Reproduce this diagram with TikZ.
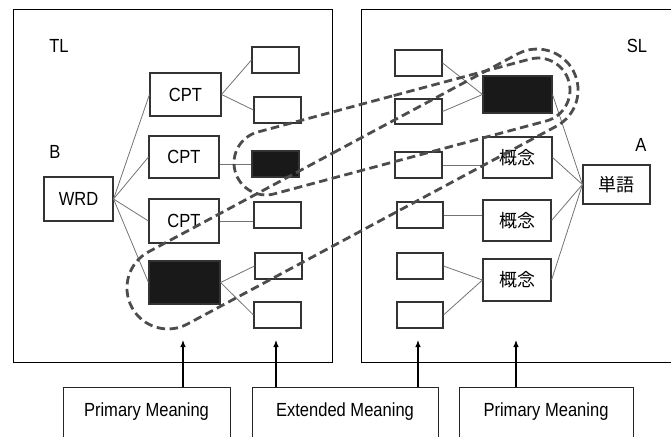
\documentclass[tikz,border=0pt]{standalone}
\usepackage{fontspec}
\setmainfont{Liberation Sans}[FakeStretch=0.87]
\newfontfamily\jpfont{Noto Sans CJK JP}
\usetikzlibrary{arrows.meta}
\usetikzlibrary{calc}
\usetikzlibrary{positioning}
\usetikzlibrary{shapes.misc}

\begin{document}
\begin{tikzpicture}[
	x=1pt, y=-1pt,
	> = {Latex[length=7pt, width=5.5pt]},
	every node/.style = {font=\fontsize{19}{21}\selectfont},
	bigbox/.style = {draw=black!80, line width=1.1pt, minimum width=70pt, minimum height=42pt, inner sep=0pt},
	smallbox/.style = {draw=black!80, line width=1.1pt, minimum width=47pt, minimum height=26pt, inner sep=0pt},
	filled/.style = {fill=black!90},
	jp/.style = {font=\jpfont\fontsize{18}{20}\selectfont},
	conn/.style = {draw=black!55, line width=0.8pt},
	meaning/.style = {draw=black!85, line width=0.9pt, anchor=north, inner ysep=0pt, text height=29pt, text depth=60pt},
	dashloop/.style = {rounded rectangle, draw=black!70, line width=2.8pt, dash pattern=on 8.5pt off 4.5pt, inner sep=0pt}
	]
	\useasboundingbox (0,0) rectangle (671,436);

	\draw[line width=0.9pt] (13,9) rectangle (332,362);
	\draw[line width=0.9pt] (361,9) rectangle (690,362);

	\node (tl) at (59,46) {TL};
	\node (b) at (55,152) {B};
	\node (sl) at (637,46) {SL};
	\node (a) at (641,145) {A};

	% TL side
	\node[bigbox, minimum width=69pt, minimum height=44pt] (wrd) at (78.5,199) {WRD};
	\node[bigbox, minimum width=71pt, minimum height=43pt] (cpt1) at (185.5,94.5) {CPT};
	\node[bigbox] (cpt2) at (184,157) {CPT};
	\node[bigbox, minimum height=44pt] (cpt3) at (184,221) {CPT};
	\node[bigbox, filled, minimum width=71pt, minimum height=43pt] (cptx) at (184.5,282.5) {};

	\node[smallbox] (t1) at (275.5,60) {};
	\node[smallbox] (t2) at (277.5,110) {};
	\node[smallbox, filled] (tx) at (275.5,164) {};
	\node[smallbox] (t3) at (277.5,215) {};
	\node[smallbox] (t4) at (278.5,266) {};
	\node[smallbox] (t5) at (277.5,315) {};

	\draw[conn] (wrd.east) -- (cpt1.west);
	\draw[conn] (wrd.east) -- (cpt2.west);
	\draw[conn] (wrd.east) -- (cpt3.west);
	\draw[conn] (wrd.east) -- (cptx.west);
	\draw[conn] (cpt1.east) -- (t1.west);
	\draw[conn] (cpt1.east) -- (t2.west);
	\draw[conn] (tx.west -| cpt2.east) -- (tx.west);
	\draw[conn] (cpt3.east) -- (cpt3.east -| t3.west);
	\draw[conn] (cptx.east) -- (t4.west);
	\draw[conn] (cptx.east) -- (t5.west);

	% SL side
	\node[smallbox] (s1) at (418.5,63) {};
	\node[smallbox, minimum height=25pt] (s2) at (418.5,111.5) {};
	\node[smallbox] (s3) at (418.5,165) {};
	\node[smallbox, minimum width=46pt] (s4) at (420,215) {};
	\node[smallbox, minimum width=46pt] (s5) at (420,266) {};
	\node[smallbox, minimum width=46pt] (s6) at (420,315) {};

	\node[bigbox, filled, minimum width=69pt, minimum height=37pt] (kx) at (517.5,94.5) {};
	\node[bigbox, jp, minimum width=69pt, minimum height=41pt] (k1) at (517.5,157.5) {概念};
	\node[bigbox, jp, minimum width=68pt, minimum height=41pt] (k2) at (517,220.5) {概念};
	\node[bigbox, jp, minimum width=68pt, minimum height=42pt] (k3) at (517,280) {概念};
	\node[bigbox, jp, minimum width=67pt, minimum height=39pt] (tango) at (616.5,184.5) {単語};

	\draw[conn] (s1.east) -- (kx.west);
	\draw[conn] (s2.east) -- (kx.west);
	\draw[conn] (s3.east) -- (s3.east -| k1.west);
	\draw[conn] (s4.east) -- (s4.east -| k2.west);
	\draw[conn] (s5.east) -- (k3.west);
	\draw[conn] (s6.east) -- (k3.west);
	\draw[conn] (kx.east) -- (tango.west);
	\draw[conn] (k1.east) -- (tango.west);
	\draw[conn] (k2.east) -- (tango.west);
	\draw[conn] (k3.east) -- (tango.west);

	% meanings
	\node[meaning, minimum width=167pt] (pm1) at (146.5,387) {Primary Meaning};
	\node[meaning, minimum width=186pt] (em) at (345,387) {Extended Meaning};
	\node[meaning, minimum width=174pt] (pm2) at (546,387) {Primary Meaning};

	\coordinate (a1) at (183,340);
	\coordinate (a2) at (276,340);
	\coordinate (a3) at (418,340);
	\coordinate (a4) at (516,340);
	\draw[->, line width=1.1pt] (a1 |- pm1.north) -- (a1);
	\draw[->, line width=1.1pt] (a2 |- em.north) -- (a2);
	\draw[->, line width=1.1pt] (a3 |- em.north) -- (a3);
	\draw[->, line width=1.1pt] (a4 |- pm2.north) -- (a4);

	\node[dashloop, minimum width=345.6pt, minimum height=64pt, rotate=15] (loopA) at (402,126.5) {};
	\node[dashloop, minimum width=500.8pt, minimum height=82pt, rotate=28.2] (loopB) at (352.5,189) {};
\end{tikzpicture}
\end{document}
